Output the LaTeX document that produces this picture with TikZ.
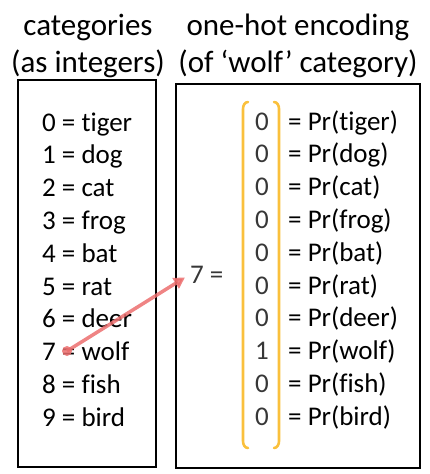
\documentclass[tikz,border=0pt]{standalone}
\usepackage{fontspec}
\setmainfont{Carlito}[Ligatures=NoCommon]
\usetikzlibrary{
    positioning,
    arrows.meta,
    calc
}
\definecolor{bracketcolor}{RGB}{250, 192, 60}
\definecolor{arrowcolor}{RGB}{236, 110, 110}
\definecolor{digitcolor}{RGB}{55, 55, 55}

\begin{document}
\begin{tikzpicture}[
    x=1pt, y=-1pt,
    % Heading text
    heading/.style={
        font=\fontsize{31}{37}\selectfont,
        inner sep=0pt
    },
    % Framing panel
    panel/.style={
        rectangle,
        draw=black,
        line width=2pt
    },
    % List item text
    item/.style={
        font=\fontsize{27}{32}\selectfont,
        inner sep=0pt
    },
    % Vector entry
    entry/.style={
        font=\fontsize{27}{32}\selectfont,
        text=digitcolor,
        inner sep=0pt
    },
    % Bracket style
    bracket/.style={
        draw=bracketcolor,
        line width=2.6pt,
        line cap=round
    },
    % Arrow style
    link/.style={
        -{Triangle[length=11pt, width=12pt]},
        draw=arrowcolor,
        line width=3.5pt,
        opacity=0.85
    }
]

\useasboundingbox (0,0) rectangle (429,474);

% ============================================
% HEADINGS
% ============================================

\node[heading, anchor=base] (cattitle) at (88, 35) {categories};
\node[heading, anchor=base] (catsub) at (88, 72) {(as integers)};
\node[heading, anchor=base] (hottitle) at (298, 35) {one-hot encoding};
\node[heading, anchor=base] (hotsub) at (298, 72) {(of ‘wolf’ category)};

% ============================================
% PANELS
% ============================================

\node[panel, minimum width=138pt, minimum height=387pt] (catbox) at (87, 273.5) {};
\node[panel, minimum width=244pt, minimum height=384pt] (hotbox) at (298, 276) {};

% ============================================
% CATEGORY LIST AND VECTOR
% ============================================

\foreach \i/\animal/\bit in {0/tiger/0, 1/dog/0, 2/cat/0, 3/frog/0, 4/bat/0,
                             5/rat/0, 6/deer/0, 7/wolf/1, 8/fish/0, 9/bird/0} {
    \node[item, anchor=base west] (cat\i) at (42, {131+32.8*\i}) {\i{} = \animal};
    \node[entry, anchor=base] (bit\i) at (262, {130+32.8*\i}) {\bit};
    \node[item, anchor=base west] (pr\i) at (288, {130+32.8*\i}) {= Pr(\animal)};
}

% Vector brackets
\draw[bracket] (248, 102) to[out=180, in=90] (243, 109) -- (243, 441)
    to[out=-90, in=180] (248, 448);
\draw[bracket] (274, 102) to[out=0, in=90] (279, 109) -- (279, 441)
    to[out=-90, in=0] (274, 448);

\node[entry, anchor=base west] (seven) at (190, 283) {7 =};

% ============================================
% WOLF ARROW
% ============================================

\coordinate (dot) at (67, 351);
\fill[arrowcolor, opacity=0.85] (dot) circle (5pt);
\draw[link, shorten >=6pt] (dot) -- (seven.west);

\end{tikzpicture}
\end{document}
